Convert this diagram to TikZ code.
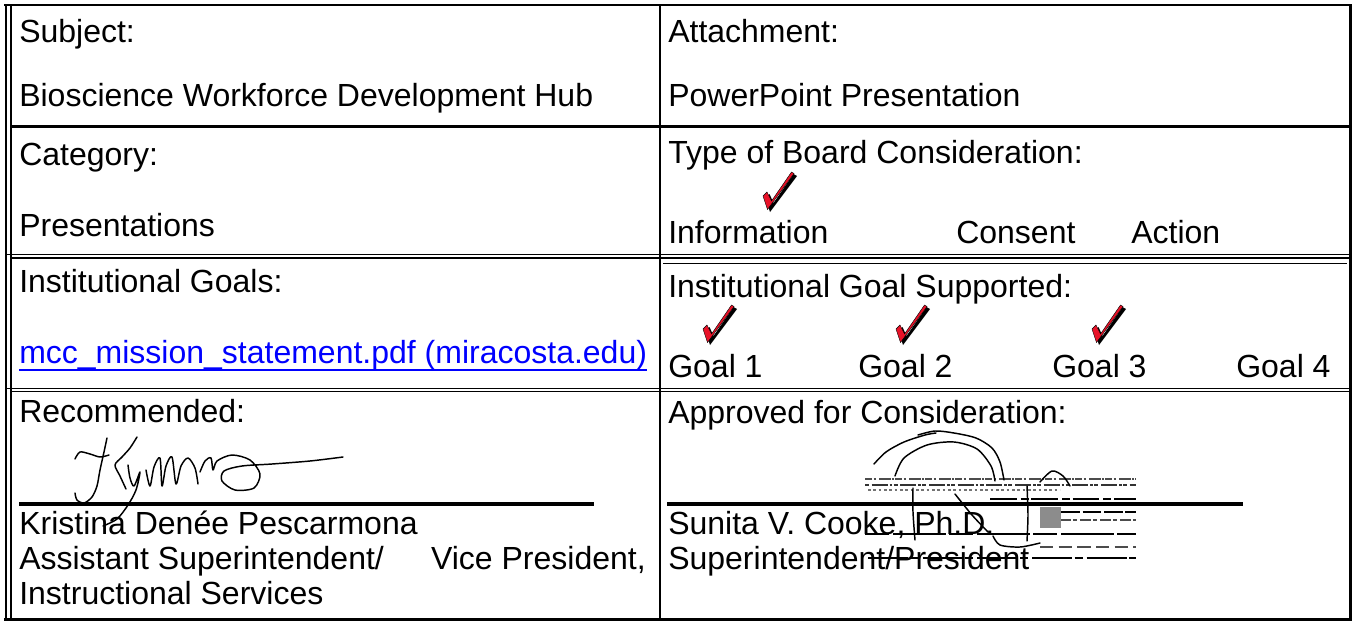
\documentclass[tikz,border=0pt]{standalone}
\usepackage{fontspec}
\usetikzlibrary{calc}
\setmainfont{Liberation Sans}
\definecolor{chkred}{RGB}{232,18,40}
\definecolor{linkblue}{RGB}{0,0,255}
\begin{document}
\begin{tikzpicture}[x=0.75pt,y=-0.75pt,
  txt/.style={anchor=base west,inner sep=0pt,font=\fontsize{24}{28}\selectfont},
  txte/.style={anchor=base east,inner sep=0pt,font=\fontsize{24}{28}\selectfont},
  thick border/.style={line width=2.2pt,black},
  mid border/.style={line width=1.6pt,black},
  thin border/.style={line width=1.2pt,black},
  sigline/.style={line width=2.4pt,black},
  sig/.style={line width=1.1pt,black,line cap=round,line join=round},
  noise/.style={line width=1.5pt,black!55},
  chk/.pic={
    \fill[black] (2.5,26) -- (6.5,22) -- (10.5,31) -- (30.5,2) -- (34,4) -- (7,40) -- cycle;
    \filldraw[fill=chkred,draw=black,line width=0.3pt] (0,24) -- (4,20) -- (8.5,29) -- (28.5,0) -- (31,1.5) -- (4.5,37.5) -- cycle;
  }]
\useasboundingbox (0,0) rectangle (1354,622);

% ---------- table frame ----------
\draw[thick border] (4,5) -- (1351,5);
\draw[thick border] (4,619.5) -- (1351,619.5);
\draw[thick border] (1350.5,4) -- (1350.5,620.5);
\draw[mid border] (5.8,4) -- (5.8,620.5);
\draw[mid border] (10.8,5) -- (10.8,620.5);
\draw[mid border] (660,5) -- (660,620);
% row 1 / row 2
\draw[thick border] (10,126.5) -- (1351,126.5);
% row 2 / row 3 (double)
\draw[thin border] (5,254.3) -- (1351,254.3);
\draw[thin border] (10.8,257.7) -- (1351,257.7);
\draw[thin border] (663,263.3) -- (1347,263.3);
% row 3 / row 4 (double)
\draw[thin border] (5,388.3) -- (1351,388.3);
\draw[thin border] (10.8,391.5) -- (1351,391.5);

% ---------- left column ----------
\node[txt] (subj) at (19,42) {Subject:};
\node[txt] (subjv) at (19,106) {Bioscience Workforce Development Hub};
\node[txt] (cat) at (19,165) {Category:};
\node[txt] (catv) at (19,236) {Presentations};
\node[txt] (ig) at (19,292) {Institutional Goals:};
\node[txt,text=linkblue] (link) at (19,363) {mcc\_mission\_statement.pdf (miracosta.edu)};
\draw[linkblue,line width=1.5pt] ($(link.base west)+(0,7)$) -- ($(link.base east)+(0,7)$);
\node[txt] (rec) at (19,422) {Recommended:};
\draw[sigline] (19,504) -- (594,504);
\node[txt] (kp) at (19,534) {Kristina Denée Pescarmona};
\node[txt] (kt1) at (19,569) {Assistant Superintendent/};
\node[txte] (kt2) at (646,569) {Vice President,};
\node[txt] (kt3) at (19,604) {Instructional Services};

% signature (left)
\draw[sig] plot[smooth] coordinates {(75,459) (80,452) (90,454) (100,457) (109,455)};
\draw[sig] plot[smooth] coordinates {(107,438) (104,452) (100,470) (97,486) (92,497) (84,503) (77,500) (75,493)};
\draw[sig] plot[smooth] coordinates {(137,437) (130,448) (122,457) (115,465) (120,476) (126,489)};
\draw[sig] plot[smooth] coordinates {(128,465) (130,478) (134,486) (140,472) (136,490) (128,505) (117,519) (103,526)};
\draw[sig] plot[smooth] coordinates {(146,470) (150,486) (154,467) (160,458) (162,486) (166,466) (172,457) (176,484) (181,466) (188,458) (195,468) (198,484)};
\draw[sig] plot[smooth] coordinates {(200,472) (205,461) (211,458) (213,470) (217,461) (232,455) (250,460) (260,474) (254,488) (235,490) (222,481) (224,471) (242,466) (272,464) (310,461) (343,457)};

% ---------- right column ----------
\node[txt] (att) at (668,42) {Attachment:};
\node[txt] (attv) at (668,106) {PowerPoint Presentation};
\node[txt] (type) at (668,163) {Type of Board Consideration:};
\node[txt] (info) at (668,243) {Information};
\node[txt] (cons) at (956,243) {Consent};
\node[txt] (act) at (1131,243) {Action};
\pic at (763,172) {chk};
\node[txt] (igs) at (668,297) {Institutional Goal Supported:};
\node[txt] (g1) at (668,377) {Goal 1};
\node[txt] (g2) at (858,377) {Goal 2};
\node[txt] (g3) at (1052,377) {Goal 3};
\node[txt] (g4) at (1236,377) {Goal 4};
\pic at (703,305) {chk};
\pic at (896,305) {chk};
\pic at (1092,305) {chk};
\node[txt] (app) at (668,423) {Approved for Consideration:};
\draw[sigline] (667,504) -- (1243,504);
\node[txt] (sc) at (668,534) {Sunita V. Cooke, Ph.D.};
\node[txt] (st) at (668,569) {Superintendent/President};

% signature (right), scanned look
\draw[noise,black!70,line width=2pt,dash pattern=on 5pt off 1.5pt on 2pt off 2pt on 9pt off 1pt on 1pt off 1pt] (865,479) -- (1136,479);
\draw[noise,black!80,line width=1.4pt,dash pattern=on 3pt off 2pt on 12pt off 1.5pt on 2pt off 1pt] (865,485) -- (1136,485);
\draw[noise,line width=0.8pt,dash pattern=on 2pt off 2pt] (868,490) -- (1060,490);
\draw[black,line width=1.2pt,dash pattern=on 20pt off 3pt on 6pt off 2pt] (990,499) -- (1136,499);
\draw[black,line width=1.5pt,dash pattern=on 14pt off 2pt] (1040,512) -- (1136,512);
\draw[black!70,line width=1pt,dash pattern=on 8pt off 2pt on 3pt off 2pt] (1040,520) -- (1136,520);
\draw[black,line width=1.6pt,dash pattern=on 18pt off 3pt on 40pt off 2pt] (865,534) -- (1136,534);
\draw[black!70,line width=1.2pt,dash pattern=on 10pt off 4pt] (1040,547) -- (1136,547);
\draw[black,line width=1pt,dash pattern=on 30pt off 2pt on 6pt off 3pt] (868,558) -- (1136,558);
\fill[black!45] (1040,507) rectangle (1061,528);
\draw[sig] plot[smooth] coordinates {(874,464) (886,452) (904,442) (925,435) (936,433)};
\draw[sig] plot[smooth] coordinates {(918,435) (935,431) (954,433) (976,438) (992,448) (1000,462) (1004,480)};
\draw[sig] plot[smooth] coordinates {(895,476) (904,458) (927,445) (954,442) (977,449) (991,466) (995,481)};
\draw[sig] plot[smooth] coordinates {(913,488) (913,512) (915,540)};
\draw[sig] plot[smooth] coordinates {(1027,486) (1028,515) (1027,541)};
\draw[sig] plot[smooth] coordinates {(993,536) (1000,545) (1020,547) (1040,543)};
\draw[sig] plot[smooth] coordinates {(955,494) (972,515) (988,532)};
\draw[sig] plot[smooth] coordinates {(1040,482) (1052,471) (1063,476) (1070,486)};
\end{tikzpicture}
\end{document}
